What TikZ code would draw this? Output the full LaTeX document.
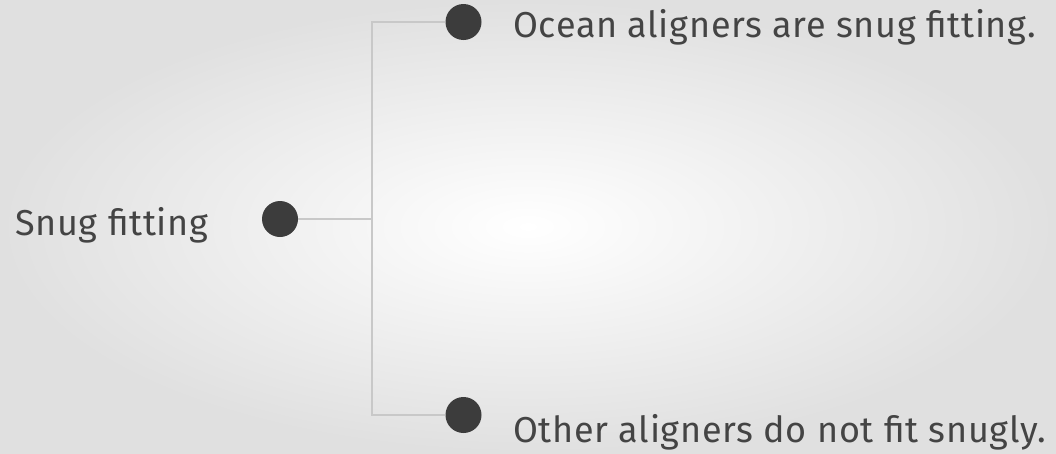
\documentclass[tikz,border=0pt]{standalone}
\usepackage{fontspec}
\setmainfont{Fira Sans}[LetterSpace=2.0]
\usetikzlibrary{positioning}
\definecolor{dotgray}{HTML}{3C3C3C}
\definecolor{txtgray}{HTML}{444444}
\definecolor{linegray}{HTML}{C8C8C8}
\definecolor{bggray}{HTML}{E0E0E0}
\tikzset{dot/.style={circle, fill=dotgray, minimum size=36pt, inner sep=0pt},
  lbl/.style={text=txtgray, font=\fontsize{36}{40}\selectfont, inner sep=0pt, anchor=base west},
  link/.style={draw=linegray, line width=1.3pt}}

\begin{document}
\begin{tikzpicture}[x=1pt, y=-1pt]
\shade[inner color=white, outer color=bggray] (0,0) rectangle (1056,453);
\useasboundingbox (0,0) rectangle (1056,453);
\node[dot] (root) at (280,219) {};
\node[dot] (top) at (463.5,22) {};
\node[dot] (bot) at (463.5,415) {};
\coordinate (fork) at (372,219);
\node[lbl] (rootlbl) at (15,235) {Snug fitting};
\node[lbl] (toplbl) at (513,37) {Ocean aligners are snug fitting.};
\node[lbl] (botlbl) at (513,442) {Other aligners do not fit snugly.};
\draw[link] (root) -- (fork);
\foreach \n in {top,bot}
{
  \draw[link] (fork) |- (\n);
}
\end{tikzpicture}
\end{document}
